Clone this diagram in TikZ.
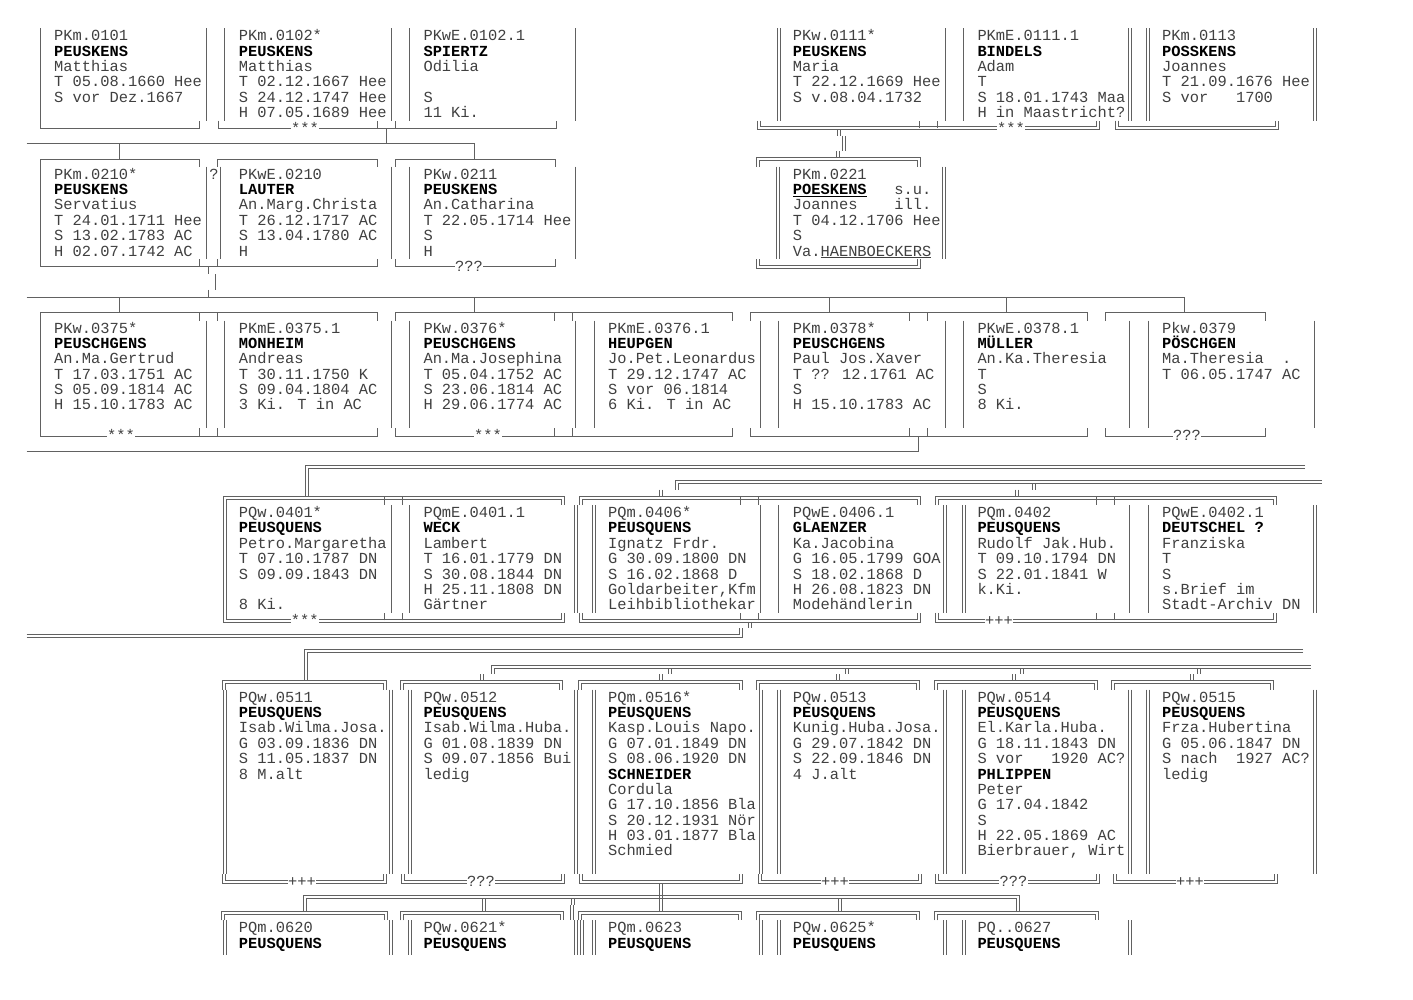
\documentclass[tikz,border=0pt]{standalone}
\usepackage{fontspec}
\newfontfamily\lmono{Liberation Mono}
\newcommand\B[1]{\textbf{\color{black}#1}}
\newcommand\mfont{\lmono\fontsize{15.39}{15.38}\selectfont}
\tikzset{
  txt/.style={font=\mfont, text=black!75, inner sep=0pt, anchor=base west},
  lab/.style={font=\mfont, text=black!75, inner sep=0.4pt, fill=white, anchor=base},
  sgl/.style={draw=black!62, line width=0.7pt},
  dl/.style={draw=black!62, line width=0.6pt},
}
% single-line helpers
\newcommand\vv[3]{\draw[sgl] (#1,{Y(#2)-7.69}) -- (#1,{Y(#3)+7.69});}
\newcommand\up[2]{\draw[sgl] (#1,{Y(#2)}) -- (#1,{Y(#2)-7.69});}
\newcommand\dn[2]{\draw[sgl] (#1,{Y(#2)}) -- (#1,{Y(#2)+7.69});}
\newcommand\topf[3]{\draw[sgl] (#1,{Y(#3)+7.69}) -- (#1,{Y(#3)}) -- (#2,{Y(#3)}) -- (#2,{Y(#3)+7.69});}
\newcommand\botf[3]{\draw[sgl] (#1,{Y(#3)-7.69}) -- (#1,{Y(#3)}) -- (#2,{Y(#3)}) -- (#2,{Y(#3)-7.69});}
% double-line helpers (two strokes 3pt apart)
\newcommand\dvy[3]{\draw[dl] ({#1-1.5},{#2}) -- ({#1-1.5},{#3}); \draw[dl] ({#1+1.5},{#2}) -- ({#1+1.5},{#3});}
\newcommand\dvv[3]{\dvy{#1}{Y(#2)-7.69}{Y(#3)+7.69}}
\newcommand\dtop[3]{%
  \draw[dl] ({#1-1.5},{Y(#3)+7.69}) -- ({#1-1.5},{Y(#3)-1.5}) -- ({#2+1.5},{Y(#3)-1.5}) -- ({#2+1.5},{Y(#3)+7.69});
  \draw[dl] ({#1+1.5},{Y(#3)+7.69}) -- ({#1+1.5},{Y(#3)+1.5}) -- ({#2-1.5},{Y(#3)+1.5}) -- ({#2-1.5},{Y(#3)+7.69});}
\newcommand\dbot[3]{%
  \draw[dl] ({#1-1.5},{Y(#3)-7.69}) -- ({#1-1.5},{Y(#3)+1.5}) -- ({#2+1.5},{Y(#3)+1.5}) -- ({#2+1.5},{Y(#3)-7.69});
  \draw[dl] ({#1+1.5},{Y(#3)-7.69}) -- ({#1+1.5},{Y(#3)-1.5}) -- ({#2-1.5},{Y(#3)-1.5}) -- ({#2-1.5},{Y(#3)-7.69});}
\newcommand\ddn[2]{\dvy{#1}{Y(#2)+1.5}{Y(#2)+7.69}}
\newcommand\dup[2]{\dvy{#1}{Y(#2)-7.69}{Y(#2)-1.5}}
% corner "╔" : horizontal from (#1 = far x) to corner x #2 on line #3, then down to y #4
\newcommand\dcorn[4]{%
  \draw[dl] (#1,{Y(#3)-1.5}) -- ({#2-1.5},{Y(#3)-1.5}) -- ({#2-1.5},{#4});
  \draw[dl] (#1,{Y(#3)+1.5}) -- ({#2+1.5},{Y(#3)+1.5}) -- ({#2+1.5},{#4});}
\newcommand\lbl[4]{\node[lab] (#1) at (#2,{Y(#3)+4.8}) {#4};}
\newcommand\pbox[4]{\foreach \t [count=\i from 0] in {#4} {\node[txt] (#1-\i) at ({54+184.66*#2},{Y(#3+\i)+4.8}) {\t};}}
\begin{document}
\begin{tikzpicture}[x=1pt,y=-1pt,declare function={Y(\l)=36+15.38*\l;}]
\useasboundingbox (0,0) rectangle (1413,1000);
\fill[white] (0,0) rectangle (1413,1000);

% ================= ROW 1 =================
\foreach \x in {40.15,206.35,224.8,391.0,409.5,575.7,945.0,963.5} {\vv{\x}{0}{5}}
\foreach \x in {778.8,1129.7,1148.1,1314.3} {\dvv{\x}{0}{5}}
\botf{40.15}{199.8}{6}
\botf{217.9}{556}{6} \up{377.6}{6} \up{395.3}{6}
\dbot{758.8}{1098.1}{6} \up{919.5}{6} \up{937.4}{6}
\dbot{1116.3}{1277}{6}
% connectors row 1 -> row 2
\coordinate (c1a) at (386.5,{Y(6)});
\coordinate (c1b) at (386.5,{Y(7)});
\draw[sgl] (c1a) -- (c1b);
\coordinate (l7a) at (26.5,{Y(7)});
\coordinate (l7b) at (474.7,{Y(7)});
\coordinate (l7c) at (474.7,{Y(8)});
\draw[sgl] (l7a) -- (l7b) -- (l7c);
\coordinate (l7d) at (119.7,{Y(7)});
\coordinate (l7e) at (119.7,{Y(8)});
\draw[sgl] (l7d) -- (l7e);
\dvy{839.2}{Y(6)+1.5}{Y(6)+7.69}
\dvy{843.4}{Y(6)+7.69}{Y(7)+7.69}
\dvy{838.2}{Y(7)+7.69}{Y(8)-1.5}

% ================= ROW 2 =================
\topf{40.15}{199.8}{8}
\topf{217.5}{377.2}{8}
\topf{395.3}{555}{8}
\dtop{758.1}{918.3}{8}
\foreach \x in {40.15,206.35,220,391.0,409.5,575.7} {\vv{\x}{9}{14}}
\foreach \x in {777.5,944} {\dvv{\x}{9}{14}}
\botf{40.15}{377.3}{15} \up{199.8}{15} \up{217.6}{15}
\botf{395.4}{555.1}{15}
\dbot{757.7}{918.4}{15}
\coordinate (c2a) at (208.7,{Y(15)});
\coordinate (c2b) at (208.7,{Y(15)+7.69});
\draw[sgl] (c2a) -- (c2b);
\draw[sgl] (215.6,{Y(16)-7.69}) -- (215.6,{Y(16)+7.69});
\draw[sgl] (208.3,{Y(17)-7.69}) -- (208.3,{Y(17)});

% ================= ROW 3 =================
\coordinate (l17a) at (26.5,{Y(17)});
\coordinate (l17b) at (1184,{Y(17)});
\draw[sgl] (l17a) -- (l17b) -- (1184,{Y(18)});
\foreach \x in {119.7,474.6,829,1006.5} {\draw[sgl] (\x,{Y(17)}) -- (\x,{Y(18)});}
\topf{40.15}{377.1}{18} \dn{199.7}{18} \dn{217.4}{18}
\topf{395.2}{732.1}{18} \dn{554.8}{18} \dn{572.5}{18}
\topf{750.2}{1087.1}{18} \dn{909.8}{18} \dn{927.5}{18}
\topf{1105.2}{1265.5}{18}
\foreach \x in {40.15,206.35,224.8,391.0,409.5,575.7,594.1,760.3,778.8,945.0,963.5,1129.7,1148.1,1314.3} {\vv{\x}{19}{25}}
\botf{40.15}{377.1}{26} \up{199.7}{26} \up{217.4}{26}
\botf{395.2}{732.1}{26} \up{554.8}{26} \up{572.5}{26}
\botf{750.2}{1087.1}{26} \up{909.8}{26} \up{927.5}{26}
\botf{1105.2}{1265.5}{26}
\coordinate (l27a) at (26.5,{Y(27)});
\coordinate (l27b) at (918.5,{Y(27)});
\draw[sgl] (l27a) -- (l27b) -- (918.5,{Y(26)});

% ================= ROW 4 =================
\dcorn{1305}{306.5}{28}{Y(30)-1.5}
\dcorn{1321.8}{676.9}{29}{Y(29)+7.69}
\dup{660.7}{30}
\ddn{1033.6}{29}
\dup{1016.6}{30}
\dtop{224.8}{562.6}{30}
\dtop{580.7}{918.5}{30}
\dtop{936.6}{1274.4}{30}
\foreach \x in {384.8,402.6,740.7,758.5,1096.6,1114.4} {\dn{\x}{30}}
\foreach \x in {224.8,575.7,594.1,945.0,963.5,1314.3} {\dvv{\x}{31}{37}}
\foreach \x in {391.0,409.5,760.3,778.8,1129.7,1148.1} {\vv{\x}{31}{37}}
\dbot{224.8}{562.6}{38}
\dbot{580.7}{918.5}{38}
\dbot{936.6}{1274.4}{38}
\foreach \x in {384.8,402.6,740.7,758.5,1096.6,1114.4} {\up{\x}{38}}
\ddn{749.6}{38}
\draw[dl] (26.5,{Y(39)+1.5}) -- (742.5,{Y(39)+1.5}) -- (742.5,{Y(39)-7.69});
\draw[dl] (26.5,{Y(39)-1.5}) -- (739.5,{Y(39)-1.5}) -- (739.5,{Y(39)-7.69});

% ================= ROW 5 =================
\dcorn{1303}{306}{40}{Y(42)-1.5}
\dcorn{1310.5}{492.3}{41}{Y(41)+7.69}
\dup{482}{42}
\foreach \a/\b in {669.5/660.5,846.8/838,1022/1013.5,1199/1192} {\ddn{\a}{41}\dup{\b}{42}}
\foreach \a/\b in {223.5/384.8,402/561,580/741,758/918,936/1096,1113/1272} {\dtop{\a}{\b}{42}}
\foreach \x in {224.8,391.0,409.5,575.7,594.1,760.3,778.8,945.0,963.5,1129.7,1148.1,1314.3} {\dvv{\x}{43}{54}}
\foreach \a/\b in {223.5/384.8,402.5/563,580.8/741,759.5/919.3,937.2/1098,1115/1275.5} {\dbot{\a}{\b}{55}}

% ================= ROW 6 =================
\dvy{661}{Y(55)+1.5}{Y(57)-1.5}
\draw[dl] (303.5,{Y(57)-1.5}) -- (303.5,{Y(56)-1.5}) -- (1019.5,{Y(56)-1.5}) -- (1019.5,{Y(57)-1.5});
\draw[dl] (306.5,{Y(57)-1.5}) -- (306.5,{Y(56)+1.5}) -- (1016.5,{Y(56)+1.5}) -- (1016.5,{Y(57)-1.5});
\foreach \x in {484,839.5} {\dvy{\x}{Y(56)+1.5}{Y(57)-1.5}}
\dvy{573}{Y(56)+1.5}{Y(56)+7.69}
\dvy{571.5}{Y(57)-7.69}{Y(57)+7.69}
\dvy{582}{Y(58)-7.69}{955}
\foreach \a/\b in {223/386,401.5/562,579.5/740,757.5/918,935.5/1096.5} {\dtop{\a}{\b}{57}}
\foreach \x in {224.8,391.0,409.5,575.7,594.1,760.3,778.8,945.0,963.5,1129.7} {\dvy{\x}{Y(58)-7.69}{955}}

% ================= LABELS ON LINES =================
\lbl{m1}{305}{6}{***}
\lbl{m2}{1011}{6}{***}
\lbl{m3}{469}{15}{???}
\node[txt,anchor=base] (qm) at (214,{Y(9)+4.8}) {?};
\lbl{m4}{121}{26}{***}
\lbl{m5}{488}{26}{***}
\lbl{m6}{1187}{26}{???}
\lbl{m7}{304.8}{38}{***}
\lbl{m8}{999}{38}{+++}
\lbl{m9}{302}{55}{+++}
\lbl{m10}{481}{55}{???}
\lbl{m11}{835}{55}{+++}
\lbl{m12}{1013.5}{55}{???}
\lbl{m13}{1190}{55}{+++}

% ================= TEXTS =================
\pbox{p0101}{0}{0}{PKm.0101,\B{PEUSKENS},Matthias,T 05.08.1660 Hee,S vor Dez.1667}
\pbox{p0102}{1}{0}{PKm.0102*,\B{PEUSKENS},Matthias,T 02.12.1667 Hee,S 24.12.1747 Hee,H 07.05.1689 Hee}
\pbox{p01021}{2}{0}{PKwE.0102.1,\B{SPIERTZ},Odilia,\phantom{S},S,11 Ki.}
\pbox{p0111}{4}{0}{PKw.0111*,\B{PEUSKENS},Maria,T 22.12.1669 Hee,S v.08.04.1732}
\pbox{p01111}{5}{0}{PKmE.0111.1,\B{BINDELS},Adam,T,S 18.01.1743 Maa,H in Maastricht?}
\pbox{p0113}{6}{0}{PKm.0113,\B{POSSKENS},Joannes,T 21.09.1676 Hee,S vor~~~1700}

\pbox{p0210}{0}{9}{PKm.0210*,\B{PEUSKENS},Servatius,T 24.01.1711 Hee,S 13.02.1783 AC,H 02.07.1742 AC}
\pbox{p0210e}{1}{9}{PKwE.0210,\B{LAUTER},An.Marg.Christa,T 26.12.1717 AC,S 13.04.1780 AC,H}
\pbox{p0211}{2}{9}{PKw.0211,\B{PEUSKENS},An.Catharina,T 22.05.1714 Hee,S,H}
\pbox{p0221}{4}{9}{PKm.0221,\B{\underline{POESKENS}}~~~s.u.,Joannes~~~~ill.,T 04.12.1706 Hee,S,Va.\underline{HAENBOECKERS}}

\pbox{p0375}{0}{19}{PKw.0375*,\B{PEUSCHGENS},An.Ma.Gertrud,T 17.03.1751 AC,S 05.09.1814 AC,H 15.10.1783 AC}
\pbox{p03751}{1}{19}{PKmE.0375.1,\B{MONHEIM},Andreas,T 30.11.1750 K,S 09.04.1804 AC,3 Ki. T in AC}
\pbox{p0376}{2}{19}{PKw.0376*,\B{PEUSCHGENS},An.Ma.Josephina,T 05.04.1752 AC,S 23.06.1814 AC,H 29.06.1774 AC}
\pbox{p03761}{3}{19}{PKmE.0376.1,\B{HEUPGEN},Jo.Pet.Leonardus,T 29.12.1747 AC,S vor 06.1814,6 Ki. T in AC}
\pbox{p0378}{4}{19}{PKm.0378*,\B{PEUSCHGENS},Paul Jos.Xaver,T ?? 12.1761 AC,S,H 15.10.1783 AC}
\pbox{p03781}{5}{19}{PKwE.0378.1,\B{MÜLLER},An.Ka.Theresia,T,S,8 Ki.}
\pbox{p0379}{6}{19}{Pkw.0379,\B{PÖSCHGEN},Ma.Theresia~~.,T 06.05.1747 AC}

\pbox{q0401}{1}{31}{PQw.0401*,\B{PEUSQUENS},Petro.Margaretha,T 07.10.1787 DN,S 09.09.1843 DN,\phantom{S},8 Ki.}
\pbox{q04011}{2}{31}{PQmE.0401.1,\B{WECK},Lambert,T 16.01.1779 DN,S 30.08.1844 DN,H 25.11.1808 DN,Gärtner}
\pbox{q0406}{3}{31}{PQm.0406*,\B{PEUSQUENS},Ignatz Frdr.,G 30.09.1800 DN,S 16.02.1868 D,{Goldarbeiter,Kfm},Leihbibliothekar}
\pbox{q04061}{4}{31}{PQwE.0406.1,\B{GLAENZER},Ka.Jacobina,G 16.05.1799 GOA,S 18.02.1868 D,H 26.08.1823 DN,Modehändlerin}
\pbox{q0402}{5}{31}{PQm.0402,\B{PEUSQUENS},Rudolf Jak.Hub.,T 09.10.1794 DN,S 22.01.1841 W,k.Ki.}
\pbox{q04021}{6}{31}{PQwE.0402.1,\B{DEUTSCHEL ?},Franziska,T,S,s.Brief im,Stadt-Archiv DN}

\pbox{q0511}{1}{43}{PQw.0511,\B{PEUSQUENS},Isab.Wilma.Josa.,G 03.09.1836 DN,S 11.05.1837 DN,8 M.alt}
\pbox{q0512}{2}{43}{PQw.0512,\B{PEUSQUENS},Isab.Wilma.Huba.,G 01.08.1839 DN,S 09.07.1856 Bui,ledig}
\pbox{q0516}{3}{43}{PQm.0516*,\B{PEUSQUENS},Kasp.Louis Napo.,G 07.01.1849 DN,S 08.06.1920 DN,\B{SCHNEIDER},Cordula,G 17.10.1856 Bla,S 20.12.1931 Nör,H 03.01.1877 Bla,Schmied}
\pbox{q0513}{4}{43}{PQw.0513,\B{PEUSQUENS},Kunig.Huba.Josa.,G 29.07.1842 DN,S 22.09.1846 DN,4 J.alt}
\pbox{q0514}{5}{43}{PQw.0514,\B{PEUSQUENS},El.Karla.Huba.,G 18.11.1843 DN,S vor~~~1920 AC?,\B{PHLIPPEN},Peter,G 17.04.1842,S,H 22.05.1869 AC,{Bierbrauer, Wirt}}
\pbox{q0515}{6}{43}{PQw.0515,\B{PEUSQUENS},Frza.Hubertina,G 05.06.1847 DN,S nach~~1927 AC?,ledig}

\pbox{q0620}{1}{58}{PQm.0620,\B{PEUSQUENS}}
\pbox{q0621}{2}{58}{PQw.0621*,\B{PEUSQUENS}}
\pbox{q0623}{3}{58}{PQm.0623,\B{PEUSQUENS}}
\pbox{q0625}{4}{58}{PQw.0625*,\B{PEUSQUENS}}
\pbox{q0627}{5}{58}{PQ..0627,\B{PEUSQUENS}}
\end{tikzpicture}
\end{document}
